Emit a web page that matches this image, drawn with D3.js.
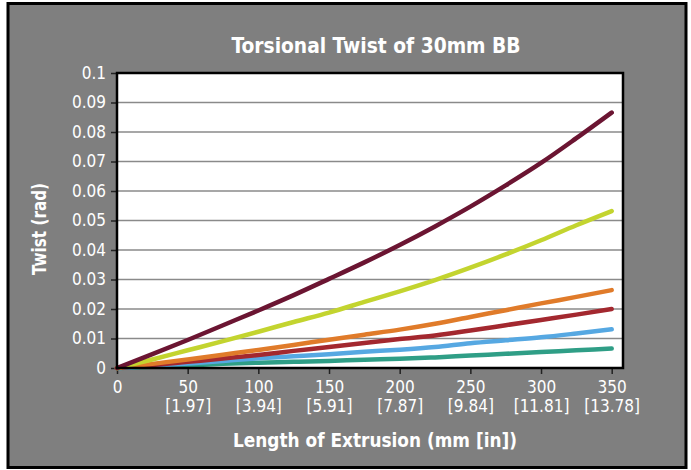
<!DOCTYPE html>
<html>
<head>
<meta charset="utf-8">
<script src="https://cdn.jsdelivr.net/npm/d3@7"></script>
<style>
  body { margin: 0; background: #fff; }
  text { fill: #fff; }
</style>
</head>
<body>
<svg width="691" height="470"></svg>
<script>
// chart data
const lengthMm = [0, 25, 50, 75, 100, 125, 150, 175, 200, 225, 250, 275, 300, 325, 350];
const twistMaroon = [0, 0.0047, 0.0095, 0.0145, 0.0195, 0.0247, 0.0302, 0.0358, 0.0417, 0.0480, 0.0547, 0.0619, 0.0695, 0.0779, 0.0866];
const twistLime   = [0, 0.0029, 0.0060, 0.0091, 0.0123, 0.0156, 0.0188, 0.0224, 0.0260, 0.0298, 0.0340, 0.0385, 0.0433, 0.0484, 0.0532];
const twistOrange = [0, 0.0014, 0.0029, 0.0045, 0.0061, 0.0078, 0.0096, 0.0113, 0.0130, 0.0150, 0.0173, 0.0196, 0.0219, 0.0241, 0.0264];
const twistRed    = [0, 0.0010, 0.0021, 0.0032, 0.0044, 0.0058, 0.0071, 0.0085, 0.0098, 0.0110, 0.0127, 0.0145, 0.0163, 0.0181, 0.0200];
const twistBlue   = [0, 0.0007, 0.0015, 0.0024, 0.0033, 0.0040, 0.0047, 0.0055, 0.0062, 0.0071, 0.0084, 0.0094, 0.0104, 0.0117, 0.0131];
const twistTeal   = [0, 0.0004, 0.0009, 0.0014, 0.0018, 0.0021, 0.0024, 0.0028, 0.0031, 0.0036, 0.0042, 0.0048, 0.0054, 0.0060, 0.0066];

const xTicks = [0, 50, 100, 150, 200, 250, 300, 350];
const xTickInches = ["", "[1.97]", "[3.94]", "[5.91]", "[7.87]", "[9.84]", "[11.81]", "[13.78]"];
const yTicks = [0, 0.01, 0.02, 0.03, 0.04, 0.05, 0.06, 0.07, 0.08, 0.09, 0.1];

const series = [
  { values: twistTeal,   color: "#2f9e86" },
  { values: twistBlue,   color: "#56a8e2" },
  { values: twistRed,    color: "#a3282f" },
  { values: twistOrange, color: "#e07b2a" },
  { values: twistLime,   color: "#c3d42f" },
  { values: twistMaroon, color: "#6b1532" }
];

const svg = d3.select("svg");
const font = "'DejaVu Sans Condensed', 'Liberation Sans Narrow', sans-serif";

// outer frame
svg.append("rect")
  .attr("x", 8).attr("y", 3.5).attr("width", 678).attr("height", 464)
  .attr("fill", "#7f7f7f").attr("stroke", "#000").attr("stroke-width", 3);

const plot = { left: 117, top: 73, right: 623, bottom: 368 };

const x = d3.scaleLinear().domain([0, 350]).range([plot.left, 611.7]);
const y = d3.scaleLinear().domain([0, 0.1]).range([plot.bottom, plot.top]);

svg.append("rect")
  .attr("x", plot.left).attr("y", plot.top)
  .attr("width", plot.right - plot.left).attr("height", plot.bottom - plot.top)
  .attr("fill", "#fff");

// gridlines
svg.append("g")
  .selectAll("line")
  .data(yTicks.slice(1))
  .join("line")
  .attr("x1", plot.left).attr("x2", plot.right)
  .attr("y1", d => y(d)).attr("y2", d => y(d))
  .attr("stroke", "#8a8a8a").attr("stroke-width", 1.5);

// y axis
const yAxis = svg.append("g")
  .attr("transform", `translate(${plot.left},0)`)
  .call(d3.axisLeft(y).tickValues(yTicks).tickFormat(d3.format("")).tickSize(6).tickPadding(5));
yAxis.select(".domain").remove();
yAxis.selectAll(".tick line").attr("stroke", "#222").attr("stroke-width", 1.5);
yAxis.selectAll(".tick text")
  .attr("fill", "#fff").style("font-family", font).style("font-size", "17px");

// x axis
const xAxis = svg.append("g")
  .attr("transform", `translate(0,${plot.bottom})`)
  .call(d3.axisBottom(x).tickValues(xTicks).tickSize(6).tickFormat(""));
xAxis.select(".domain").remove();
xAxis.selectAll(".tick line").attr("stroke", "#222").attr("stroke-width", 1.5);
xAxis.selectAll(".tick").each(function (d, i) {
  const t = d3.select(this).append("text")
    .attr("text-anchor", "middle")
    .style("font-family", font).style("font-size", "17px").attr("fill", "#fff");
  t.append("tspan").attr("x", 0).attr("y", 25).text(d);
  t.append("tspan").attr("x", 0).attr("y", 44).text(xTickInches[i]);
});

// lines
const line = d3.line()
  .x((d, i) => x(lengthMm[i]))
  .y(d => y(d))
  .curve(d3.curveMonotoneX);

svg.append("g")
  .selectAll("path")
  .data(series)
  .join("path")
  .attr("d", d => line(d.values))
  .attr("fill", "none")
  .attr("stroke", d => d.color)
  .attr("stroke-width", 4.5)
  .attr("stroke-linecap", "round")
  .attr("stroke-linejoin", "round");

// plot border
svg.append("path")
  .attr("d", `M${plot.left},${plot.top}H${plot.right}V${plot.bottom}H${plot.left}Z`)
  .attr("fill", "none").attr("stroke", "#000").attr("stroke-width", 2.5);

// titles
svg.append("text")
  .attr("x", 376).attr("y", 53)
  .attr("text-anchor", "middle")
  .attr("textLength", 289).attr("lengthAdjust", "spacingAndGlyphs")
  .style("font-family", font).style("font-size", "22px").style("font-weight", "bold")
  .text("Torsional Twist of 30mm BB");

svg.append("text")
  .attr("x", 375).attr("y", 447)
  .attr("text-anchor", "middle")
  .attr("textLength", 284).attr("lengthAdjust", "spacingAndGlyphs")
  .style("font-family", font).style("font-size", "20px").style("font-weight", "bold")
  .text("Length of Extrusion (mm [in])");

svg.append("text")
  .attr("transform", "translate(46,229) rotate(-90)")
  .attr("text-anchor", "middle")
  .attr("textLength", 92).attr("lengthAdjust", "spacingAndGlyphs")
  .style("font-family", font).style("font-size", "20px").style("font-weight", "bold")
  .text("Twist (rad)");
</script>
</body>
</html>
